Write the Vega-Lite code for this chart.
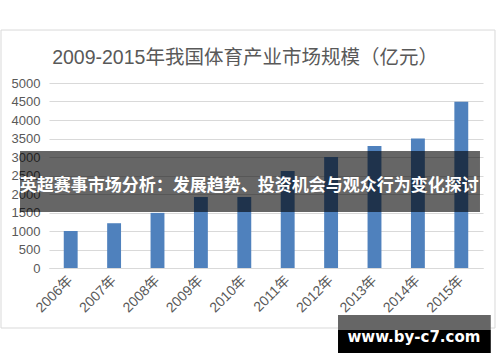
{
  "$schema": "https://vega.github.io/schema/vega-lite/v6.json",
  "width": 434,
  "height": 185,
  "autosize": {"type": "none"},
  "padding": {"left": 49, "top": 83, "right": 17, "bottom": 94},
  "background": "white",
  "title": {
    "text": "2009-2015年我国体育产业市场规模（亿元）",
    "frame": "group",
    "anchor": "middle",
    "dx": -21,
    "offset": -39,
    "font": "Liberation Sans, Noto Sans CJK SC",
    "fontSize": 19.5,
    "fontWeight": "normal",
    "color": "#595959"
  },
  "config": {
    "view": {"stroke": null},
    "numberFormat": "d",
    "axis": {"labelFont": "Liberation Sans, Noto Sans CJK SC", "labelColor": "#595959", "ticks": false},
    "axisX": {"labelAngle": -45, "labelAlign": "right", "labelBaseline": "middle", "labelPadding": 10, "labelFontSize": 14, "domainColor": "#d9d9d9", "grid": false},
    "axisY": {"tickCount": 10, "domain": false, "labelPadding": 9, "labelFontSize": 13, "gridColor": "#d9d9d9", "grid": true}
  },
  "layer": [
    {
      "data": {
        "values": [
          {"year": "2006年", "value": 1000},
          {"year": "2007年", "value": 1210},
          {"year": "2008年", "value": 1490},
          {"year": "2009年", "value": 1920},
          {"year": "2010年", "value": 1920},
          {"year": "2011年", "value": 2620},
          {"year": "2012年", "value": 3000},
          {"year": "2013年", "value": 3300},
          {"year": "2014年", "value": 3500},
          {"year": "2015年", "value": 4490}
        ]
      },
      "mark": {"type": "bar", "color": "#4f81bd"},
      "encoding": {
        "x": {
          "field": "year", "type": "nominal", "sort": null, "title": null,
          "scale": {"domain": ["2006年", "2007年", "2008年", "2009年", "2010年", "2011年", "2012年", "2013年", "2014年", "2015年"], "paddingInner": 0.68, "paddingOuter": 0.34}
        },
        "y": {
          "field": "value", "type": "quantitative", "title": null,
          "scale": {"domain": [0, 5000], "nice": false}
        }
      }
    },
    {
      "data": {"values": [{"label": "frame"}]},
      "mark": {"type": "bar", "filled": false, "stroke": "#d9d9d9", "strokeWidth": 1, "width": {"band": 35.57}, "xOffset": 3.7},
      "encoding": {
        "x": {"datum": "2010年", "type": "nominal", "title": null},
        "y": {"datum": 6432, "type": "quantitative", "title": null},
        "y2": {"datum": -1622}
      }
    },
    {
      "data": {"values": [{"label": "banner"}]},
      "mark": {"type": "bar", "color": "black", "opacity": 0.6, "width": {"band": 33.12}, "xOffset": 5.7},
      "encoding": {
        "x": {"datum": "2010年", "type": "nominal", "title": null},
        "y": {"datum": 1514, "type": "quantitative", "title": null},
        "y2": {"datum": 3162}
      }
    },
    {
      "data": {"values": [{"label": "英超赛事市场分析：发展趋势、投资机会与观众行为变化探讨"}]},
      "mark": {"type": "text", "color": "white", "font": "Noto Sans CJK SC", "fontSize": 17, "fontWeight": "bold", "baseline": "middle", "align": "center", "dx": 5},
      "encoding": {
        "text": {"field": "label"},
        "x": {"datum": "2010年", "type": "nominal", "title": null},
        "y": {"datum": 2216, "type": "quantitative", "title": null}
      }
    },
    {
      "data": {"values": [{"label": "box top"}]},
      "mark": {"type": "bar", "color": "#666666", "width": {"band": 11}, "xOffset": -3.5},
      "encoding": {
        "x": {"datum": "2014年", "type": "nominal", "title": null},
        "y": {"datum": -1270, "type": "quantitative", "title": null},
        "y2": {"datum": -1676}
      }
    },
    {
      "data": {"values": [{"label": "box"}]},
      "mark": {"type": "bar", "color": "black", "width": {"band": 11}, "xOffset": -3.5},
      "encoding": {
        "x": {"datum": "2014年", "type": "nominal", "title": null},
        "y": {"datum": -1676, "type": "quantitative", "title": null},
        "y2": {"datum": -2297}
      }
    },
    {
      "data": {"values": [{"label": "www.by-c7.com"}]},
      "mark": {"type": "text", "color": "white", "font": "DejaVu Sans", "fontSize": 15, "fontWeight": "bold", "baseline": "middle", "align": "center", "dx": -4},
      "encoding": {
        "text": {"field": "label"},
        "x": {"datum": "2014年", "type": "nominal", "title": null},
        "y": {"datum": -1865, "type": "quantitative", "title": null}
      }
    }
  ]
}
